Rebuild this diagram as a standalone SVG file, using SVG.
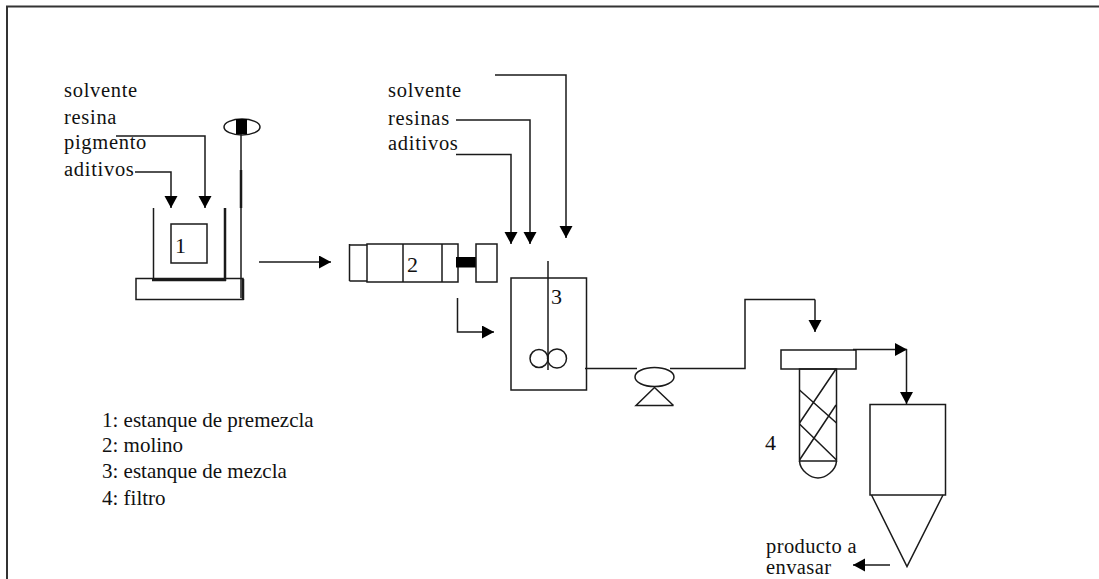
<svg xmlns="http://www.w3.org/2000/svg" width="1099" height="579" viewBox="0 0 1099 579">
<style>
text{font-family:"Liberation Serif","Times New Roman",serif;font-size:20.500px;fill:#111}
.n{font-size:22px}
.l{letter-spacing:.7px}
.g{font-size:21px}
.p{letter-spacing:.4px}
path,rect,line,ellipse,circle{fill:none;stroke:#1a1a1a;stroke-width:1.5}
.t{stroke-width:2.5}
.k{fill:#000;stroke:none}
</style>
<defs><marker id="a" markerUnits="userSpaceOnUse" markerWidth="14" markerHeight="14" refX="12" refY="6.5" orient="auto"><path class="k" d="M0 0L12 6.500L0 13Z"/></marker></defs>
<rect width="1099" height="579" style="fill:#fff;stroke:none"/>
<path id="frame" d="M7 579V6.500H1099" style="stroke-width:2;stroke:#333"/>
<g id="connectors">
<path marker-end="url(#a)" d="M116 136H205V208"/>
<path marker-end="url(#a)" d="M135 172H171V208"/>
<path marker-end="url(#a)" d="M259 262H331"/>
<path marker-end="url(#a)" d="M495 75H566V238"/>
<path marker-end="url(#a)" d="M456 120H530V244"/>
<path marker-end="url(#a)" d="M456 154.500H511V244"/>
<path marker-end="url(#a)" d="M457.500 298V332H494"/>
<path d="M585 368.500H637"/>
<path d="M670 368.500H745V299.500H815"/>
<path marker-end="url(#a)" d="M815 299.500V332"/>
<path marker-end="url(#a)" d="M853 349.500H907"/>
<path marker-end="url(#a)" d="M906.500 349V404"/>
<path marker-end="url(#a)" d="M890 565H853"/>
</g>
<g id="node-1">
<path d="M153.500 208V280"/>
<path class="t" d="M225 208V281M152 280H226"/>
<rect x="171" y="224" width="36" height="39"/>
<text class="n" x="175" y="253">1</text>
<rect x="136" y="278.500" width="107" height="21"/>
<path d="M241 134V298"/>
<path class="t" d="M241 170V208M243 279V300"/>
<ellipse cx="242" cy="127" rx="18" ry="8"/>
<rect class="k" x="236" y="119" width="11" height="15"/>
</g>
<g id="node-2">
<path d="M349.500 244V281M349.500 245H367M349.500 281H367"/>
<rect x="367" y="244" width="91" height="38"/>
<path d="M403 244V282M442 244V282"/>
<rect class="k" x="456" y="257" width="20" height="10.500"/>
<rect x="476" y="244" width="21" height="38"/>
<text class="n" x="407" y="272">2</text>
</g>
<g id="node-3">
<rect x="511" y="278" width="75.500" height="112"/>
<path d="M548 261V370"/>
<circle cx="539" cy="358.500" r="9"/>
<circle cx="557" cy="358.500" r="9.500"/>
<text class="n" x="551" y="304">3</text>
</g>
<g id="pump">
<ellipse cx="654.500" cy="377" rx="19.500" ry="9.500"/>
<path d="M654.500 387.500L636 405.500H673.500M654.500 387.500L673.500 405.500"/>
</g>
<g id="node-4">
<rect x="781" y="350" width="75" height="19"/>
<rect x="799.500" y="369" width="37" height="92"/>
<path d="M799.500 390L836.500 423M799.500 424L836.500 460M799.500 423L836 369M799.500 460L836 405"/>
<path d="M799.500 461C800 471 811 478 818 478C825 478 836 471 836.500 461"/>
<text class="n" x="765" y="450">4</text>
</g>
<g id="tank">
<rect x="870" y="404.500" width="75.500" height="90.500"/>
<path d="M871.500 495L907 566.500L943 495"/>
</g>
<g id="labels">
<text class="l" x="64" y="97">solvente</text>
<text class="l" x="64" y="124">resina</text>
<text class="l" x="64" y="149">pigmento</text>
<text class="l" x="64" y="176">aditivos</text>
<text class="l" x="388" y="97">solvente</text>
<text class="l" x="388" y="125">resinas</text>
<text class="l" x="388" y="150">aditivos</text>
<text class="g" x="102" y="427">1: estanque de premezcla</text>
<text class="g" x="102" y="452">2: molino</text>
<text class="g" x="102" y="478">3: estanque de mezcla</text>
<text class="g" x="102" y="505">4: filtro</text>
<text class="p" x="766" y="553">producto a</text>
<text class="p" x="766" y="574">envasar</text>
</g>
</svg>
